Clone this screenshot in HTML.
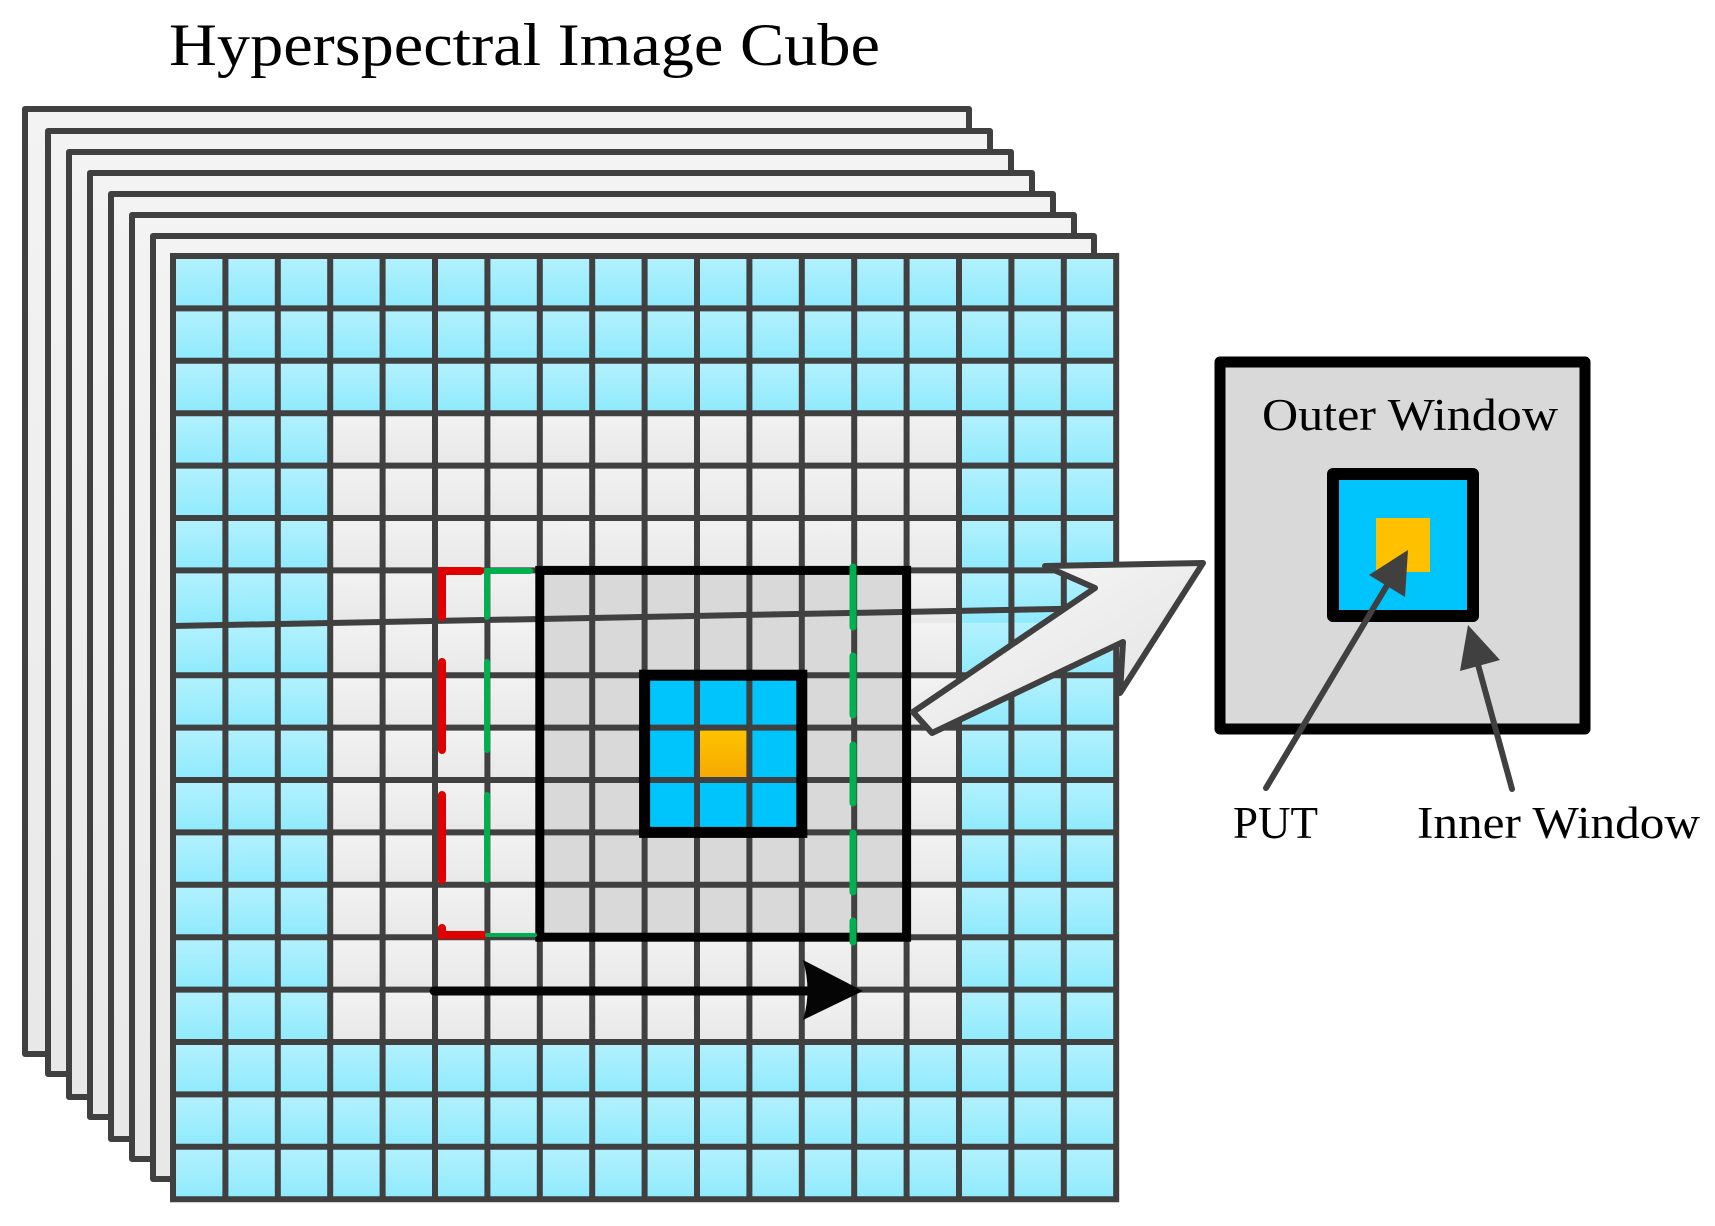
<!DOCTYPE html>
<html><head><meta charset="utf-8"><style>html,body{margin:0;padding:0;background:#fff}svg{display:block}</style></head>
<body>
<svg width="1715" height="1226" viewBox="0 0 1715 1226" xmlns="http://www.w3.org/2000/svg">
<defs>
<linearGradient id="fr" x1="0" y1="0" x2="0" y2="1"><stop offset="0" stop-color="#f3f3f3"/><stop offset="1" stop-color="#e8e8e8"/></linearGradient>
<linearGradient id="cg" x1="0" y1="0" x2="0" y2="1"><stop offset="0" stop-color="#b4f1fd"/><stop offset="1" stop-color="#8eeafd"/></linearGradient>
<linearGradient id="gg" x1="0" y1="0" x2="0" y2="1"><stop offset="0" stop-color="#f2f2f2"/><stop offset="1" stop-color="#e8e8e8"/></linearGradient>
<linearGradient id="og" x1="0" y1="0" x2="0" y2="1"><stop offset="0" stop-color="#ffc400"/><stop offset="1" stop-color="#f5a800"/></linearGradient>
<linearGradient id="ag" x1="0" y1="0" x2="1" y2="1"><stop offset="0" stop-color="#fafafa"/><stop offset="1" stop-color="#e0e0e0"/></linearGradient>
<pattern id="pc" x="173" y="256" width="52.4" height="52.4" patternUnits="userSpaceOnUse"><rect width="52.4" height="52.4" fill="url(#cg)"/></pattern>
<pattern id="pg" x="173" y="256" width="52.4" height="52.4" patternUnits="userSpaceOnUse"><rect width="52.4" height="52.4" fill="url(#gg)"/></pattern>
</defs>
<text x="169" y="65" font-family="Liberation Serif, serif" font-size="60" textLength="711" lengthAdjust="spacingAndGlyphs">Hyperspectral Image Cube</text>
<g fill="url(#fr)" stroke="#404040" stroke-width="6" stroke-linejoin="round">
<rect x="25" y="109" width="944" height="945"/>
<rect x="48" y="131" width="942" height="943"/>
<rect x="69" y="152" width="942" height="945"/>
<rect x="90" y="173" width="942" height="944"/>
<rect x="111" y="194" width="942" height="945"/>
<rect x="132" y="215" width="942" height="944"/>
<rect x="153" y="236" width="941" height="943"/>
</g>
<rect x="173" y="256" width="943.2" height="943.2" fill="url(#pc)"/>
<rect x="330.2" y="413.2" width="628.8" height="628.8" fill="url(#pg)"/>
<rect x="539.8" y="570.4" width="366.8" height="366.8" fill="#d9d9d9"/>
<rect x="644.6" y="675.2" width="157.2" height="157.2" fill="#00c5fc"/>
<rect x="697" y="727.6" width="52.4" height="52.4" fill="url(#og)"/>
<g stroke="#404040" stroke-width="6">
<path d="M173 253V1202M225.4 256V1199M277.8 256V1199M330.2 256V1199M382.6 256V1199M435 256V1199M487.4 256V1199M539.8 256V1199M592.2 256V1199M644.6 256V1199M697 256V1199M749.4 256V1199M801.8 256V1199M854.2 256V1199M906.6 256V1199M959 256V1199M1011.4 256V1199M1063.8 256V1199M1116.2 253V1202"/>
<path d="M170 256H1119M173 308.4H1116M173 360.8H1116M173 413.2H1116M173 465.6H1116M173 518H1116M173 570.4H1116M173 675.2H1116M173 727.6H1116M173 780H1116M173 832.4H1116M173 884.8H1116M173 937.2H1116M173 989.6H1116M173 1042H1116M173 1094.4H1116M173 1146.8H1116M170 1199.2H1119"/>
<path d="M173 626L1110 608"/>
</g>
<rect x="539.8" y="570.4" width="366.8" height="366.8" fill="none" stroke="#000" stroke-width="9"/>
<rect x="644.6" y="675.2" width="157.2" height="157.2" fill="none" stroke="#000" stroke-width="11"/>
<g stroke="#e00000" stroke-width="8" fill="none" stroke-linecap="round">
<path d="M442 617V571H480"/>
<path d="M442 662V750M442 795V880"/>
<path d="M442 928V935H483"/>
</g>
<g stroke="#00b050" fill="none" stroke-linecap="round">
<path d="M487 617V571H530" stroke-width="6"/>
<path d="M487 662V750M487 795V880" stroke-width="6"/>
<path d="M487 935H535" stroke-width="4"/>
<path d="M853 567V627M853 656V715M853 745V803M853 833V892M853 921V942" stroke-width="7"/>
</g>
<path d="M434 991H815" stroke="#050505" stroke-width="9" stroke-linecap="round"/>
<path d="M863 991L803 960Q812 991 803 1020Z" fill="#050505"/>
<polygon points="1203,563 1045,566 1095,588 913,712 932,733 1123,642 1120,693" fill="url(#ag)" stroke="#404040" stroke-width="6" stroke-linejoin="round"/>
<rect x="1220" y="362" width="365" height="367" fill="#d9d9d9" stroke="#000" stroke-width="11" stroke-linejoin="round"/>
<rect x="1333" y="474" width="140" height="142" fill="#00c5fc" stroke="#000" stroke-width="12" stroke-linejoin="round"/>
<rect x="1376" y="518" width="54" height="54" fill="#ffc000"/>
<text x="1262" y="430" font-family="Liberation Serif, serif" font-size="45" textLength="296" lengthAdjust="spacingAndGlyphs">Outer Window</text>
<g stroke="#404040" stroke-width="6" stroke-linecap="round">
<path d="M1266 788L1395 572"/>
<path d="M1512 789L1474 650"/>
</g>
<polygon points="1408,550 1369,575 1405,597" fill="#404040"/>
<polygon points="1468,625 1460,671 1500,660" fill="#404040"/>
<text x="1233" y="838" font-family="Liberation Serif, serif" font-size="45" textLength="85" lengthAdjust="spacingAndGlyphs">PUT</text>
<text x="1417" y="838" font-family="Liberation Serif, serif" font-size="45" textLength="283" lengthAdjust="spacingAndGlyphs">Inner Window</text>
</svg>
</body></html>
